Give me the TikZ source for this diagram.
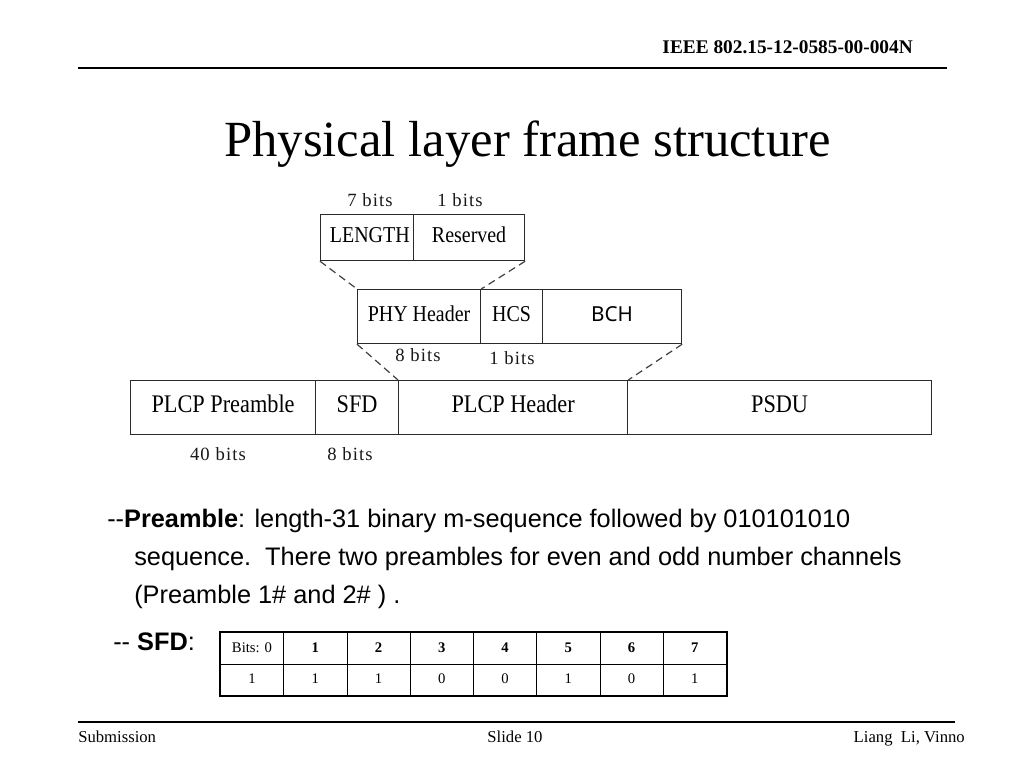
\documentclass[tikz,border=0pt]{standalone}
\usepackage{fontspec}
\setmainfont{Liberation Serif}
\setsansfont{Liberation Sans}
\newfontfamily\diagf[FakeStretch=0.88]{Liberation Serif}
\newfontfamily\bitsf[LetterSpace=6]{Liberation Serif}
\newfontfamily\bchf{Noto Sans}
\definecolor{boxline}{HTML}{2A2A2A}
\definecolor{dashline}{HTML}{404040}
\tikzset{
  cell/.style 2 args={draw=boxline, line width=0.9pt, anchor=north west, inner sep=0pt,
    minimum width=#1*0.75pt, minimum height=#2*0.75pt, text height=0.8em, text depth=0.04em},
  smallbox/.style={font=\diagf\fontsize{17pt}{19pt}\selectfont},
  bigbox/.style={font=\diagf\fontsize{19pt}{21pt}\selectfont},
  bitlabel/.style={font=\bitsf\fontsize{14pt}{16pt}\selectfont, inner sep=0pt, text=black!90},
  zoomline/.style={draw=dashline, line width=0.9pt, dash pattern=on 5.5pt off 3.5pt},
  bodytext/.style={font=\sffamily\fontsize{19pt}{22pt}\selectfont, inner sep=0pt, anchor=base west},
  tcell/.style={draw=black, line width=0.5pt, anchor=north west, inner sep=0pt,
    minimum width=63.25*0.75pt, minimum height=#1*0.75pt, text height=0.68em, text depth=0.06em,
    font=\fontsize{11pt}{12pt}\selectfont},
  foottext/.style={font=\fontsize{12.5pt}{14pt}\selectfont, inner sep=0pt},
}
\begin{document}
\begin{tikzpicture}[x=0.75pt,y=-0.75pt]
\useasboundingbox (0,0) rectangle (1024,768);
\fill[white] (0,0) rectangle (1024,768);

% header
\node[font=\bfseries\fontsize{14.5pt}{16pt}\selectfont, inner sep=0pt, anchor=base east] (hdrtxt) at (913,53) {IEEE 802.15-12-0585-00-004N};
\draw[line width=1.1pt] (78,68) -- (947,68);

% title
\node[font=\fontsize{38pt}{42pt}\selectfont, inner sep=0pt, anchor=base] (title) at (527.5,156) {Physical layer frame structure};

% top row
\node[cell={93}{46}, smallbox] (len) at (320,214) {\hspace{4pt}LENGTH};
\node[cell={111}{46}, smallbox] (res) at (413,214) {Reserved};
\node[bitlabel] (b7) at (370,200) {7 bits};
\node[bitlabel] (b1a) at (460,200) {1 bits};

% middle row
\node[cell={123}{54}, smallbox] (phy) at (357,289) {PHY Header};
\node[cell={62}{54}, smallbox] (hcs) at (480,289) {HCS};
\node[cell={139}{54}, font=\bchf\fontsize{15.5pt}{17pt}\selectfont] (bch) at (542,289) {BCH};
\node[bitlabel] (b8a) at (418,355) {8 bits};
\node[bitlabel] (b1b) at (512,358) {1 bits};

% bottom row
\node[cell={185}{54}, bigbox] (pre) at (130,380) {PLCP Preamble};
\node[cell={83}{54}, bigbox] (sfd) at (315,380) {SFD};
\node[cell={229}{54}, bigbox] (plcph) at (398,380) {PLCP Header};
\node[cell={304}{54}, bigbox] (psdu) at (627,380) {PSDU};
\node[bitlabel] (b40) at (218,454) {40 bits};
\node[bitlabel] (b8b) at (350,454) {8 bits};

% zoom lines
\draw[zoomline] (len.south west) -- (phy.north west);
\draw[zoomline] (res.south east) -- (phy.north east);
\draw[zoomline] (phy.south west) -- (plcph.north west);
\draw[zoomline] (bch.south east) -- (plcph.north east);

% body text
\node[bodytext] (l1) at (107,527) {-{}-\textbf{Preamble}: length-31 binary m-sequence followed by 010101010};
\node[bodytext] (l2) at (134,565) {sequence.\ \ There two preambles for even and odd number channels};
\node[bodytext] (l3) at (134,603) {(Preamble 1\# and 2\# ) .};
\node[bodytext] (l4) at (113,650) {-{}- \textbf{SFD}:};

% SFD table
\foreach \i/\h/\v in {0/{Bits: 0}/1, 1/{\textbf{1}}/1, 2/{\textbf{2}}/1, 3/{\textbf{3}}/0, 4/{\textbf{4}}/0, 5/{\textbf{5}}/1, 6/{\textbf{6}}/0, 7/{\textbf{7}}/1}{
  \node[tcell={32}] (th\i) at ({220+\i*63.25},632) {\h};
  \node[tcell={31}] (tv\i) at ({220+\i*63.25},664) {\v};
}
\draw[line width=1.3pt] (th0.north west) rectangle (tv7.south east);
\draw[line width=1.1pt] (th0.south west) -- (th7.south east);

% footer
\draw[line width=1.1pt] (78,722) -- (955,722);
\node[foottext, anchor=base west] (fsub) at (78,742) {Submission};
\node[foottext, anchor=base] (fslide) at (515,742) {Slide 10};
\node[foottext, anchor=base east] (fauth) at (965,742) {Liang\ \ Li, Vinno};
\end{tikzpicture}
\end{document}
